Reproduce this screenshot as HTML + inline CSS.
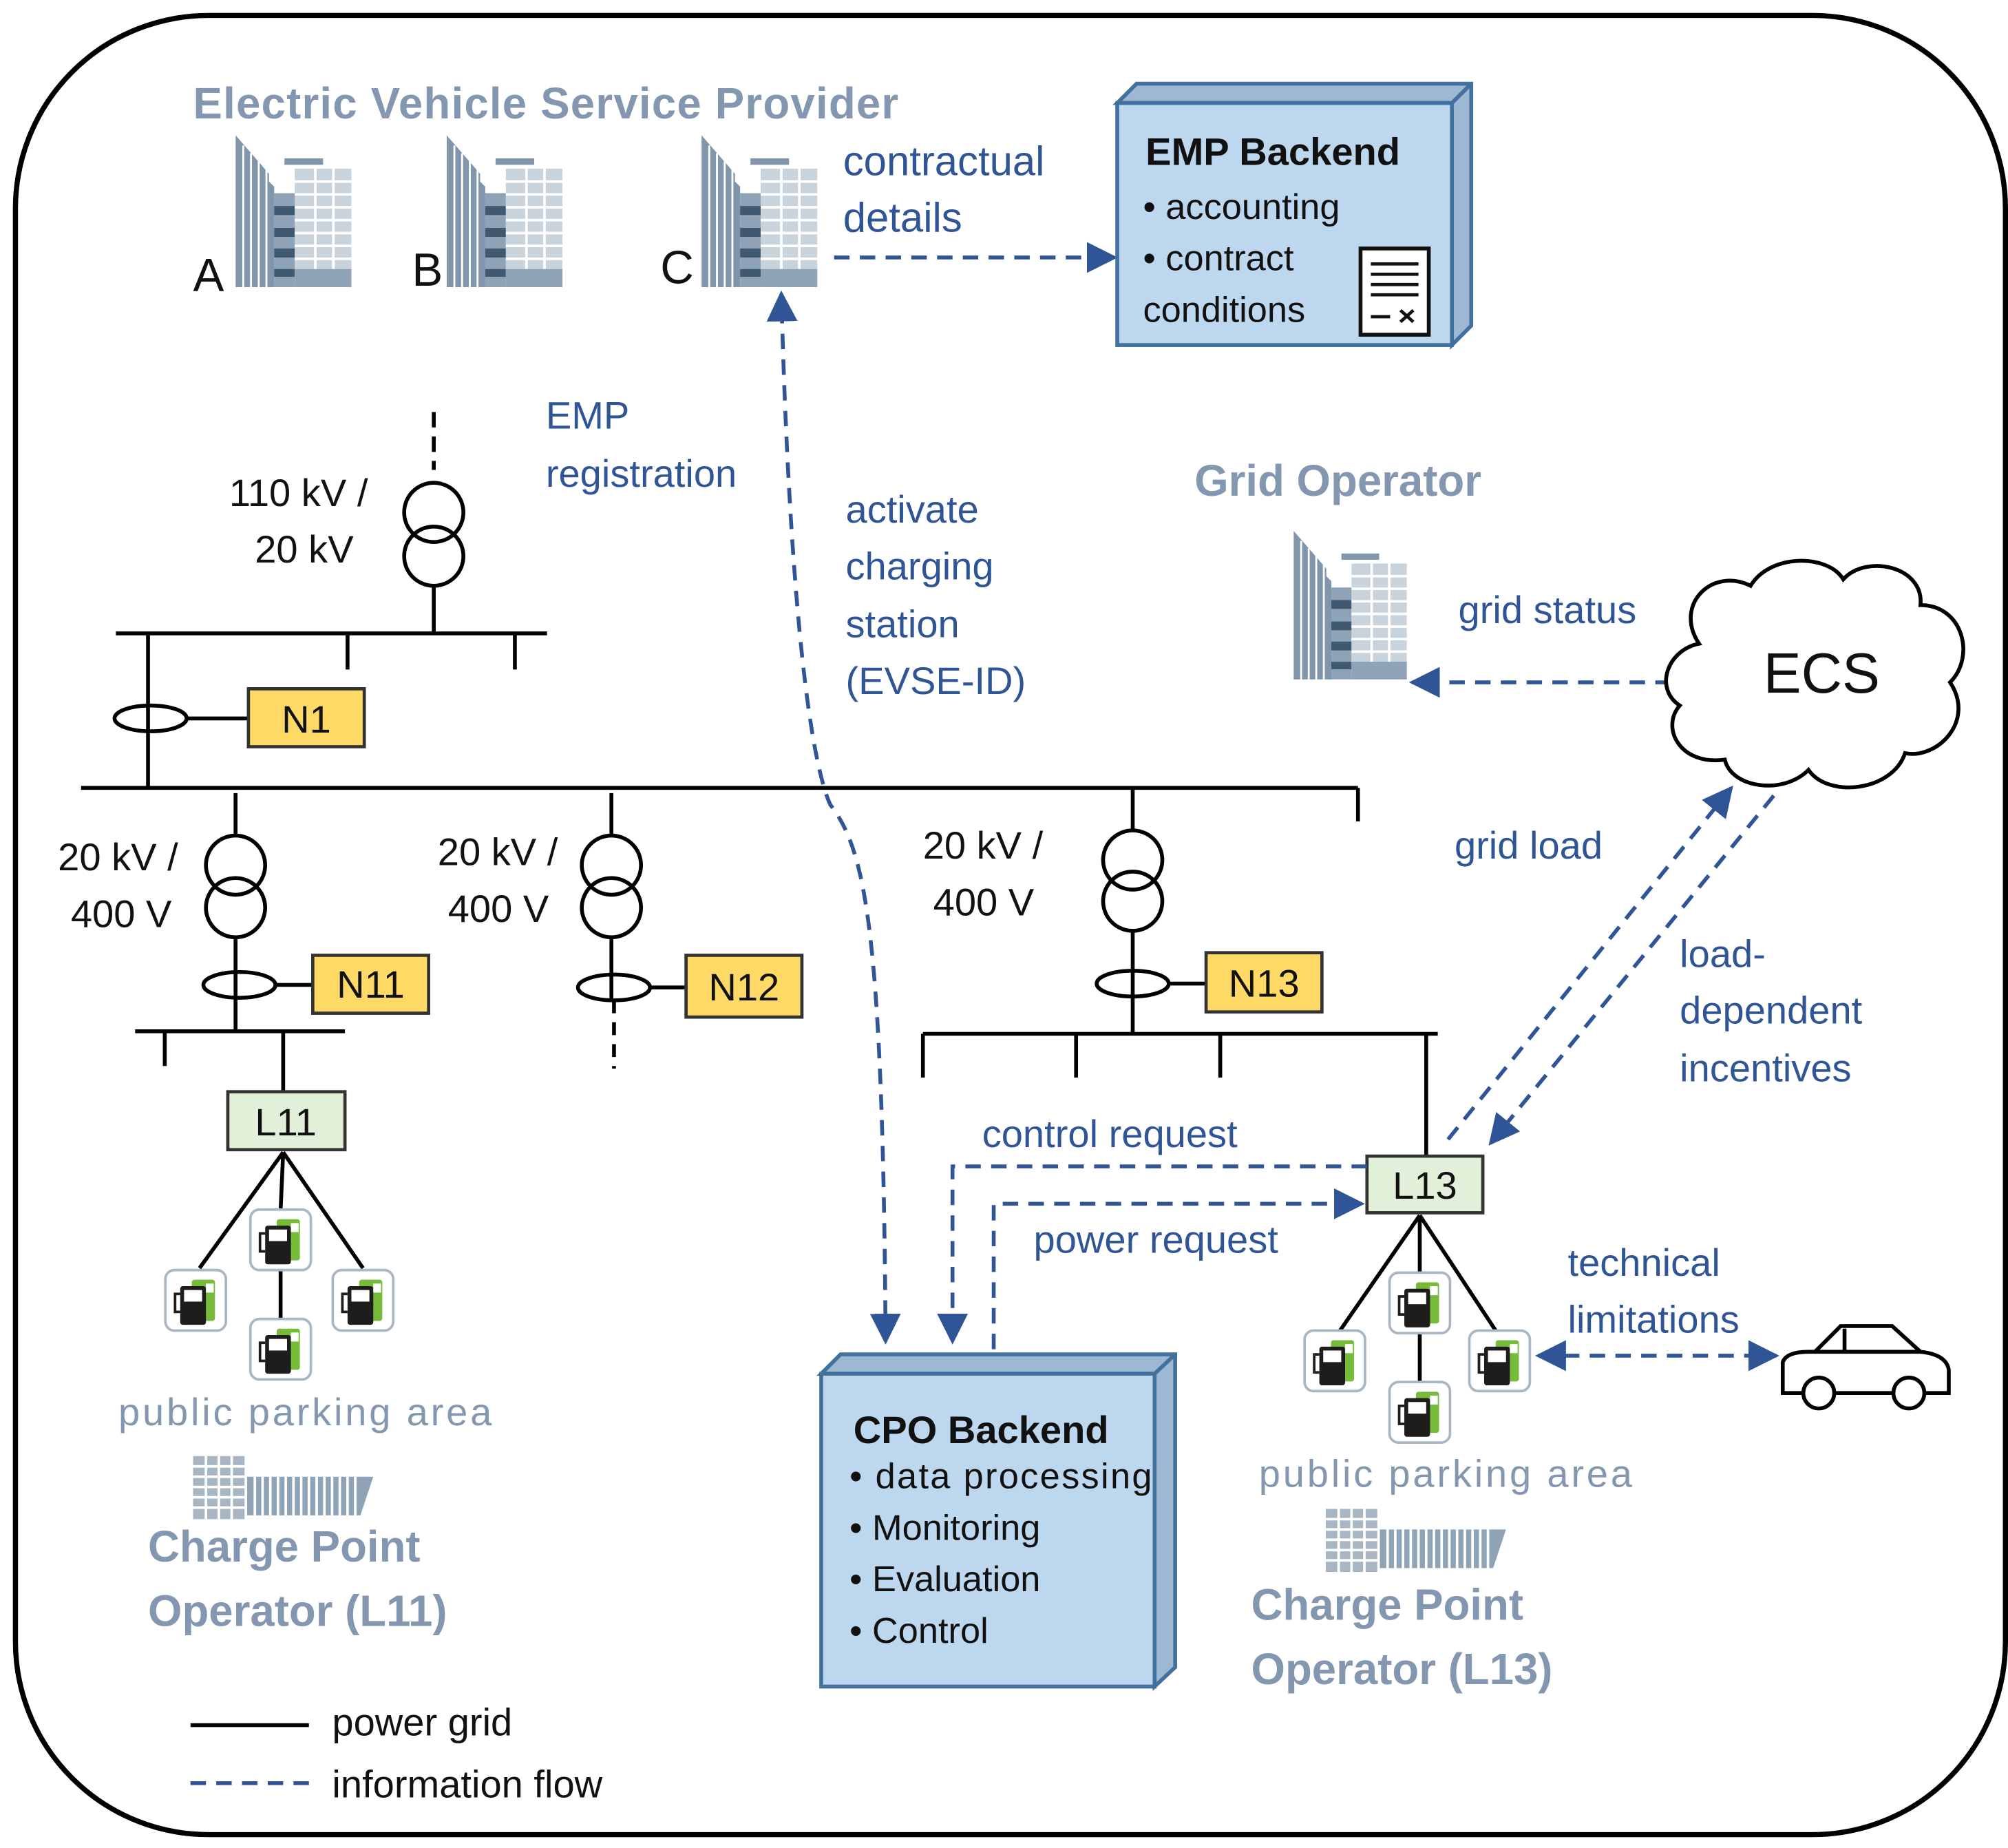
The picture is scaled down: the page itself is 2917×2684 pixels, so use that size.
<!DOCTYPE html>
<html><head><meta charset="utf-8"><style>
html,body{margin:0;padding:0;background:#fff}
svg{display:block}
text{font-family:"Liberation Sans",sans-serif}
.b{fill:#2F5597;font-size:30px}
.g{fill:#8497B0}
.k{fill:#111;font-size:30px}
.dash{stroke:#2F5597;stroke-width:3;stroke-dasharray:12 8;fill:none}
.ln{stroke:#000;stroke-width:3;fill:none}
</style></head><body>
<svg width="2917" height="2684" viewBox="0 0 1560 1435.4" preserveAspectRatio="none" xmlns="http://www.w3.org/2000/svg">
<defs>
<marker id="ar2" viewBox="0 0 10 10" refX="9" refY="5" markerWidth="24" markerHeight="24" orient="auto-start-reverse" markerUnits="userSpaceOnUse"><path d="M0,0 L10,5 L0,10 z" fill="#2F5597"/></marker>
<symbol id="bld" viewBox="0 0 90 118">
<path d="M0,0 L0,118 L30,118 L30,40 L26,36 L26,30 Z" fill="#8196aa"/>
<g stroke="#fff" stroke-width="1.5"><line x1="6" y1="8" x2="6" y2="118"/><line x1="12" y1="14" x2="12" y2="118"/><line x1="18" y1="20" x2="18" y2="118"/><line x1="24" y1="26" x2="24" y2="118"/></g>
<rect x="30" y="45" width="16" height="73" fill="#8ea3b6"/>
<g fill="#3f5a70"><rect x="30" y="55" width="16" height="7"/><rect x="30" y="72" width="16" height="7"/><rect x="30" y="88" width="16" height="7"/><rect x="30" y="104" width="16" height="6"/></g>
<rect x="38" y="18" width="30" height="5" fill="#8196aa"/>
<rect x="46" y="26" width="44" height="92" fill="#c9d3dc"/>
<g stroke="#fff" stroke-width="2"><line x1="46" y1="36" x2="90" y2="36"/><line x1="46" y1="46" x2="90" y2="46"/><line x1="46" y1="56" x2="90" y2="56"/><line x1="46" y1="66" x2="90" y2="66"/><line x1="46" y1="76" x2="90" y2="76"/><line x1="46" y1="86" x2="90" y2="86"/><line x1="46" y1="96" x2="90" y2="96"/><line x1="62" y1="26" x2="62" y2="104"/><line x1="76" y1="26" x2="76" y2="104"/></g>
<rect x="46" y="104" width="44" height="14" fill="#8ea3b6"/>
</symbol>
<symbol id="chg" viewBox="0 0 50 50">
<rect x="1.5" y="1.5" width="47" height="47" rx="7" fill="#fff" stroke="#a9b7c4" stroke-width="2"/>
<rect x="22" y="9" width="18" height="32" rx="2" fill="#76bc3a"/>
<rect x="13" y="14" width="20" height="30" rx="2" fill="#1f1c1c"/>
<rect x="16" y="17" width="14" height="9" fill="#fff"/>
<rect x="33" y="12" width="6" height="7" fill="#fff"/>
<path d="M13,20 L9,20 L9,34 L13,34" stroke="#1f1c1c" stroke-width="2" fill="none"/>
</symbol>
<symbol id="park" viewBox="0 0 140 55">
<rect x="0" y="6" width="40" height="49" fill="#a8b6c4"/>
<g stroke="#fff" stroke-width="2"><line x1="0" y1="14" x2="40" y2="14"/><line x1="0" y1="22" x2="40" y2="22"/><line x1="0" y1="30" x2="40" y2="30"/><line x1="0" y1="38" x2="40" y2="38"/><line x1="0" y1="46" x2="40" y2="46"/><line x1="10" y1="6" x2="10" y2="55"/><line x1="20" y1="6" x2="20" y2="55"/><line x1="30" y1="6" x2="30" y2="55"/></g>
<path d="M42,22 L140,22 L130,52 L42,52 Z" fill="#8ea3b6"/>
<g stroke="#fff" stroke-width="2"><line x1="48" y1="22" x2="48" y2="52"/><line x1="54" y1="22" x2="54" y2="52"/><line x1="60" y1="22" x2="60" y2="52"/><line x1="66" y1="22" x2="66" y2="52"/><line x1="72" y1="22" x2="72" y2="52"/><line x1="78" y1="22" x2="78" y2="52"/><line x1="84" y1="22" x2="84" y2="52"/><line x1="90" y1="22" x2="90" y2="52"/><line x1="96" y1="22" x2="96" y2="52"/><line x1="102" y1="22" x2="102" y2="52"/><line x1="108" y1="22" x2="108" y2="52"/><line x1="114" y1="22" x2="114" y2="52"/><line x1="120" y1="22" x2="120" y2="52"/><line x1="126" y1="22" x2="126" y2="52"/></g>
</symbol>
</defs>

<rect x="12" y="12" width="1546" height="1413" rx="150" fill="#fff" stroke="#000" stroke-width="4"/>

<!-- EVSP -->
<text x="150" y="92" class="g" font-size="34" font-weight="bold" textLength="548">Electric Vehicle Service Provider</text>
<use href="#bld" x="183" y="105" width="90" height="118"/>
<use href="#bld" x="347" y="105" width="90" height="118"/>
<use href="#bld" x="545" y="105" width="90" height="118"/>
<text x="150" y="226" class="k" style="font-size:36px">A</text>
<text x="320" y="222" class="k" style="font-size:36px">B</text>
<text x="513" y="220" class="k" style="font-size:36px">C</text>
<text x="655" y="136" class="b" style="font-size:32px">contractual</text>
<text x="655" y="180" class="b" style="font-size:32px">details</text>
<line x1="648" y1="200" x2="866" y2="200" class="dash" marker-end="url(#ar2)"/>

<!-- EMP backend -->
<path d="M868,80 L883,65 L1143,65 L1143,253 L1128,268 L1128,80 Z" fill="#9db8d3" stroke="#41719C" stroke-width="3"/>
<line x1="1128" y1="80" x2="1143" y2="65" stroke="#41719C" stroke-width="3"/>
<rect x="868" y="80" width="260" height="188" fill="#BDD7EE" stroke="#41719C" stroke-width="3"/>
<text x="890" y="128" class="k" font-weight="bold">EMP Backend</text>
<text x="888" y="170" class="k" style="font-size:28px">• accounting</text>
<text x="888" y="210" class="k" style="font-size:28px">• contract</text>
<text x="888" y="250" class="k" style="font-size:28px">conditions</text>
<rect x="1057" y="193" width="53" height="67" fill="#fff" stroke="#111" stroke-width="3"/>
<g stroke="#111" stroke-width="2.5"><line x1="1065" y1="205" x2="1102" y2="205"/><line x1="1065" y1="213" x2="1102" y2="213"/><line x1="1065" y1="221" x2="1102" y2="221"/><line x1="1065" y1="229" x2="1102" y2="229"/><line x1="1065" y1="246" x2="1080" y2="246"/><line x1="1088" y1="241" x2="1098" y2="250"/><line x1="1098" y1="241" x2="1088" y2="250"/></g>

<!-- grid top -->
<line x1="337" y1="320" x2="337" y2="365" class="ln" stroke-dasharray="12 7"/>
<circle cx="337" cy="398" r="23" class="ln"/><circle cx="337" cy="432" r="23" class="ln"/>
<line x1="337" y1="455" x2="337" y2="492" class="ln"/>
<text x="178" y="393" class="k">110 kV /</text>
<text x="198" y="437" class="k">20 kV</text>
<line x1="90" y1="492" x2="425" y2="492" class="ln"/>
<line x1="270" y1="492" x2="270" y2="520" class="ln"/><line x1="400" y1="492" x2="400" y2="520" class="ln"/>
<line x1="115" y1="492" x2="115" y2="612" class="ln"/>
<ellipse cx="117" cy="558" rx="28" ry="10" class="ln"/>
<line x1="145" y1="558" x2="193" y2="558" class="ln" stroke-width="2"/>
<rect x="193" y="535" width="90" height="45" fill="#FFD966" stroke="#333" stroke-width="2.5"/>
<text x="238" y="569" class="k" text-anchor="middle">N1</text>
<line x1="63" y1="612" x2="1055" y2="612" class="ln"/>
<line x1="1055" y1="612" x2="1055" y2="638" class="ln"/>

<!-- feeder 1 -->
<line x1="183" y1="616" x2="183" y2="649" class="ln"/>
<circle cx="183" cy="672" r="23" class="ln"/><circle cx="183" cy="705" r="23" class="ln"/>
<line x1="183" y1="728" x2="183" y2="801" class="ln"/>
<text x="45" y="676" class="k">20 kV /</text><text x="55" y="720" class="k">400 V</text>
<ellipse cx="186" cy="765" rx="28" ry="10" class="ln"/>
<line x1="214" y1="765" x2="243" y2="765" class="ln" stroke-width="2"/>
<rect x="243" y="742" width="90" height="45" fill="#FFD966" stroke="#333" stroke-width="2.5"/>
<text x="288" y="775" class="k" text-anchor="middle">N11</text>
<line x1="105" y1="801" x2="268" y2="801" class="ln"/>
<line x1="128" y1="801" x2="128" y2="828" class="ln"/>
<line x1="220" y1="801" x2="220" y2="848" class="ln"/>
<rect x="177" y="848" width="91" height="45" fill="#E2F0D9" stroke="#333" stroke-width="2.5"/>
<text x="222" y="882" class="k" text-anchor="middle">L11</text>
<path d="M220,895 L155,985 M220,895 L218,940 M220,895 L282,985 M218,985 L218,1025" class="ln"/>
<use href="#chg" x="127" y="985" width="50" height="50"/>
<use href="#chg" x="193" y="938" width="50" height="50"/>
<use href="#chg" x="257" y="985" width="50" height="50"/>
<use href="#chg" x="193" y="1023" width="50" height="50"/>
<text x="92" y="1107" class="g" font-size="30" textLength="290">public parking area</text>
<use href="#park" x="150" y="1125" width="140" height="55"/>
<text x="115" y="1213" class="g" font-size="34" font-weight="bold">Charge Point</text>
<text x="115" y="1263" class="g" font-size="34" font-weight="bold">Operator (L11)</text>

<!-- feeder 2 -->
<line x1="475" y1="616" x2="475" y2="649" class="ln"/>
<circle cx="475" cy="672" r="23" class="ln"/><circle cx="475" cy="705" r="23" class="ln"/>
<line x1="475" y1="728" x2="475" y2="777" class="ln"/>
<line x1="477" y1="777" x2="477" y2="830" class="ln" stroke-dasharray="10 7"/>
<text x="340" y="672" class="k">20 kV /</text><text x="348" y="716" class="k">400 V</text>
<ellipse cx="477" cy="767" rx="28" ry="10" class="ln"/>
<line x1="505" y1="767" x2="533" y2="767" class="ln" stroke-width="2"/>
<rect x="533" y="742" width="90" height="48" fill="#FFD966" stroke="#333" stroke-width="2.5"/>
<text x="578" y="777" class="k" text-anchor="middle">N12</text>

<!-- feeder 3 -->
<line x1="880" y1="612" x2="880" y2="645" class="ln"/>
<circle cx="880" cy="668" r="23" class="ln"/><circle cx="880" cy="700" r="23" class="ln"/>
<line x1="880" y1="723" x2="880" y2="803" class="ln"/>
<text x="717" y="667" class="k">20 kV /</text><text x="725" y="711" class="k">400 V</text>
<ellipse cx="880" cy="764" rx="28" ry="10" class="ln"/>
<line x1="908" y1="764" x2="937" y2="764" class="ln" stroke-width="2"/>
<rect x="937" y="740" width="90" height="46" fill="#FFD966" stroke="#333" stroke-width="2.5"/>
<text x="982" y="774" class="k" text-anchor="middle">N13</text>
<line x1="717" y1="803" x2="1117" y2="803" class="ln"/>
<line x1="717" y1="803" x2="717" y2="837" class="ln"/><line x1="836" y1="803" x2="836" y2="837" class="ln"/><line x1="948" y1="803" x2="948" y2="837" class="ln"/>
<line x1="1108" y1="803" x2="1108" y2="898" class="ln"/>
<rect x="1062" y="898" width="90" height="44" fill="#E2F0D9" stroke="#333" stroke-width="2.5"/>
<text x="1107" y="931" class="k" text-anchor="middle">L13</text>
<path d="M1103,944 L1040,1035 M1103,944 L1103,990 M1103,944 L1163,1035 M1103,1035 L1103,1075" class="ln"/>
<use href="#chg" x="1078" y="987" width="50" height="50"/>
<use href="#chg" x="1012" y="1032" width="50" height="50"/>
<use href="#chg" x="1140" y="1032" width="50" height="50"/>
<use href="#chg" x="1078" y="1072" width="50" height="50"/>
<text x="978" y="1155" class="g" font-size="30" textLength="290">public parking area</text>
<use href="#park" x="1030" y="1166" width="140" height="55"/>
<text x="972" y="1258" class="g" font-size="34" font-weight="bold">Charge Point</text>
<text x="972" y="1308" class="g" font-size="34" font-weight="bold">Operator (L13)</text>

<!-- CPO backend -->
<path d="M638,1067 L653,1052 L913,1052 L913,1295 L897,1310 L897,1067 Z" fill="#9db8d3" stroke="#41719C" stroke-width="3"/>
<line x1="897" y1="1067" x2="913" y2="1052" stroke="#41719C" stroke-width="3"/>
<rect x="638" y="1067" width="259" height="243" fill="#BDD7EE" stroke="#41719C" stroke-width="3"/>
<text x="663" y="1121" class="k" font-weight="bold">CPO Backend</text>
<text x="660" y="1156" class="k" style="font-size:28px" textLength="235">• data processing</text>
<text x="660" y="1196" class="k" style="font-size:28px">• Monitoring</text>
<text x="660" y="1236" class="k" style="font-size:28px">• Evaluation</text>
<text x="660" y="1276" class="k" style="font-size:28px">• Control</text>

<!-- info flows -->
<path d="M688,1042 C686,720 672,660 645,625 C625,580 612,420 607,228" class="dash" marker-start="url(#ar2)" marker-end="url(#ar2)"/>
<text x="424" y="333" class="b">EMP</text>
<text x="424" y="378" class="b">registration</text>
<text x="657" y="406" class="b">activate</text>
<text x="657" y="450" class="b">charging</text>
<text x="657" y="495" class="b">station</text>
<text x="657" y="539" class="b">(EVSE-ID)</text>
<path d="M1062,906 L740,906 L740,1042" class="dash" marker-end="url(#ar2)"/>
<path d="M772,1048 L772,935 L1058,935" class="dash" marker-end="url(#ar2)"/>
<text x="763" y="891" class="b">control request</text>
<text x="803" y="973" class="b">power request</text>

<!-- grid operator -->
<text x="928" y="385" class="g" font-size="34" font-weight="bold">Grid Operator</text>
<use href="#bld" x="1005" y="400" width="88" height="140"/>
<text x="1133" y="484" class="b">grid status</text>
<line x1="1298" y1="530" x2="1097" y2="530" class="dash" marker-end="url(#ar2)"/>
<path d="M1320,500 C1300,470 1330,440 1360,455 C1375,430 1420,430 1432,450 C1450,430 1495,440 1492,470 C1525,470 1535,510 1515,530 C1535,560 1505,590 1480,585 C1470,615 1420,620 1405,598 C1385,618 1345,612 1340,590 C1305,595 1290,565 1305,548 C1285,535 1295,505 1320,500 Z" fill="#fff" stroke="#000" stroke-width="3"/>
<text x="1370" y="538" class="k" style="font-size:44px">ECS</text>
<line x1="1125" y1="885" x2="1345" y2="612" class="dash" marker-end="url(#ar2)"/>
<line x1="1378" y1="618" x2="1158" y2="888" class="dash" marker-end="url(#ar2)"/>
<text x="1130" y="667" class="b">grid load</text>
<text x="1305" y="751" class="b">load-</text>
<text x="1305" y="795" class="b">dependent</text>
<text x="1305" y="840" class="b">incentives</text>
<text x="1218" y="991" class="b">technical</text>
<text x="1218" y="1035" class="b">limitations</text>
<line x1="1195" y1="1053" x2="1380" y2="1053" class="dash" marker-start="url(#ar2)" marker-end="url(#ar2)"/>

<!-- car -->
<path d="M1385,1082 L1385,1058 Q1388,1050 1405,1050 L1410,1050 L1430,1030 L1470,1030 L1492,1050 Q1512,1052 1514,1064 L1514,1082 Z" fill="#fff" stroke="#000" stroke-width="3"/>
<line x1="1433" y1="1032" x2="1433" y2="1050" class="ln"/>
<line x1="1410" y1="1050" x2="1492" y2="1050" class="ln"/>
<circle cx="1413" cy="1082" r="12" fill="#fff" stroke="#000" stroke-width="3"/>
<circle cx="1483" cy="1082" r="12" fill="#fff" stroke="#000" stroke-width="3"/>

<!-- legend -->
<line x1="148" y1="1340" x2="240" y2="1340" class="ln"/>
<text x="258" y="1348" class="k">power grid</text>
<line x1="148" y1="1385" x2="240" y2="1385" class="dash"/>
<text x="258" y="1396" class="k">information flow</text>
</svg>
</body></html>
